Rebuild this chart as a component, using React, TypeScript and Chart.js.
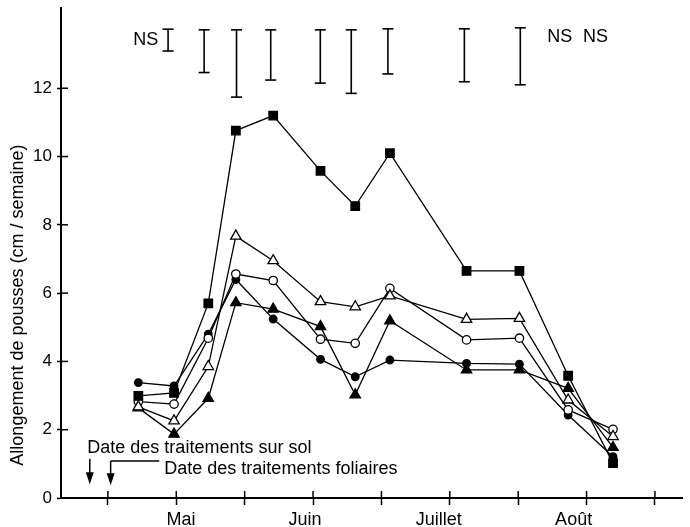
import React, { useEffect, useRef } from 'react';
import { Chart, registerables } from 'chart.js';

Chart.register(...registerables);

// Sampling dates (x units: one unit = one x-axis tick interval, 0 = first tick)
const sampleDates = [0.445, 0.967, 1.468, 1.871, 2.417, 3.109, 3.617, 4.124, 5.245, 6.018, 6.731, 7.387];

// Shoot elongation (cm / semaine) per treatment
const filledSquares = [2.99, 3.08, 5.7, 10.76, 11.2, 9.58, 8.55, 10.1, 6.65, 6.65, 3.58, 1.02];
const openTriangles = [2.67, 2.26, 3.85, 7.67, 6.95, 5.75, 5.6, 5.92, 5.23, 5.26, 2.87, 1.8];
const openCircles = [2.82, 2.75, 4.68, 6.56, 6.37, 4.65, 4.53, 6.14, 4.63, 4.68, 2.58, 2.01];
const filledCircles = [3.38, 3.28, 4.8, 6.4, 5.24, 4.06, 3.55, 4.04, 3.94, 3.92, 2.43, 1.21];
const filledTriangles = [2.64, 1.87, 2.92, 5.72, 5.53, 5.02, 3.02, 5.19, 3.75, 3.75, 3.21, 1.48];

// Axis ticks and labels
const yTicks = [0, 2, 4, 6, 8, 10, 12];
const xTickMarks = [0, 1, 2, 3, 4, 5, 6, 7, 8];
const monthNames = ['Mai', 'Juin', 'Juillet', 'Août'];
const monthPositions = [1.069, 2.881, 4.839, 6.811];

// LSD bars shown at the top
const errorBarX = [0.88, 1.407, 1.881, 2.381, 3.106, 3.559, 4.095, 5.213, 6.031];
const errorBarTop = [13.73, 13.71, 13.71, 13.71, 13.71, 13.71, 13.74, 13.74, 13.77];
const errorBarBottom = [13.09, 12.46, 11.74, 12.24, 12.15, 11.85, 12.42, 12.19, 12.1];
const nsLabels = ['NS', 'NS', 'NS'];
const nsX = [0.554, 6.608, 7.13];
const nsY = [13.41, 13.5, 13.5];

// Texts
const yTitle = 'Allongement de pousses (cm / semaine)';
const soilText = 'Date des traitements sur sol';
const foliarText = 'Date des traitements foliaires';

const X_MIN = -0.686;
const X_MAX = 8.406;
const Y_MAX = 14.35;
const FONT = '"Liberation Sans", Arial, Helvetica, sans-serif';

const toPts = (vals: number[]) => vals.map((v, i) => ({ x: sampleDates[i], y: v }));

const overlay = {
  id: 'overlay',
  afterDraw(chart: any) {
    const { ctx, chartArea } = chart;
    const xs = chart.scales.x;
    const ys = chart.scales.y;
    const px = (v: number) => xs.getPixelForValue(v);
    const py = (v: number) => ys.getPixelForValue(v);
    const line = (x1: number, y1: number, x2: number, y2: number) => {
      ctx.beginPath();
      ctx.moveTo(x1, y1);
      ctx.lineTo(x2, y2);
      ctx.stroke();
    };
    ctx.save();
    ctx.strokeStyle = '#000';
    ctx.fillStyle = '#000';
    ctx.lineWidth = 1.5;
    // inner halves of tick marks
    yTicks.forEach((v) => line(chartArea.left, py(v), chartArea.left + 7, py(v)));
    xTickMarks.forEach((v) => line(px(v), chartArea.bottom, px(v), chartArea.bottom - 7));

    // error bars
    ctx.lineWidth = 1.6;
    errorBarX.forEach((xv, i) => {
      const x0 = px(xv);
      const t = py(errorBarTop[i]);
      const b = py(errorBarBottom[i]);
      line(x0, t, x0, b);
      line(x0 - 5.5, t, x0 + 5.5, t);
      line(x0 - 5.5, b, x0 + 5.5, b);
    });
    ctx.font = `18px ${FONT}`;
    ctx.textAlign = 'center';
    ctx.textBaseline = 'middle';
    nsLabels.forEach((s, i) => ctx.fillText(s, px(nsX[i]), py(nsY[i])));

    // treatment-date annotations
    ctx.textAlign = 'left';
    ctx.textBaseline = 'alphabetic';
    ctx.fillText(soilText, px(-0.301), py(1.33));
    ctx.fillText(foliarText, px(0.825), py(0.69));
    const arrow = (xv: number, topV: number, tipV: number) => {
      const x0 = px(xv);
      const t = py(topV);
      const tip = py(tipV);
      ctx.lineWidth = 1.5;
      line(x0, t, x0, tip - 9);
      ctx.beginPath();
      ctx.moveTo(x0 - 4, tip - 12);
      ctx.lineTo(x0 + 4, tip - 12);
      ctx.lineTo(x0, tip);
      ctx.closePath();
      ctx.fill();
    };
    arrow(-0.265, 1.15, 0.4);
    arrow(0.04, 1.08, 0.37);
    ctx.lineWidth = 1.5;
    line(px(0.04), py(1.08), px(0.75), py(1.08));

    // y-axis title
    ctx.save();
    ctx.translate(chartArea.left - 43, py(5.65));
    ctx.rotate(-Math.PI / 2);
    ctx.textAlign = 'center';
    ctx.textBaseline = 'middle';
    ctx.font = `18px ${FONT}`;
    ctx.fillText(yTitle, 0, 0);
    ctx.restore();
    ctx.restore();
  },
};

const series = [
  { data: filledSquares, style: 'rect', radius: 6, fill: '#000' },
  { data: openTriangles, style: 'triangle', radius: 6, fill: '#fff' },
  { data: openCircles, style: 'circle', radius: 4.2, fill: '#fff' },
  { data: filledCircles, style: 'circle', radius: 3.8, fill: '#000' },
  { data: filledTriangles, style: 'triangle', radius: 6, fill: '#000' },
];

export default function App() {
  const ref = useRef<HTMLCanvasElement | null>(null);
  useEffect(() => {
    if (!ref.current) return;
    Chart.defaults.font.family = FONT;
    const chart = new Chart(ref.current, {
      type: 'line',
      data: {
        datasets: series.map((s) => ({
          data: toPts(s.data),
          borderColor: '#000',
          borderWidth: 1.3,
          pointStyle: s.style as any,
          pointRadius: s.radius,
          pointBackgroundColor: s.fill,
          pointBorderColor: '#000',
          pointBorderWidth: 1.3,
          tension: 0,
          fill: false,
        })),
      },
      options: {
        animation: false,
        responsive: false,
        layout: { padding: { top: 8, right: 2, left: 0, bottom: 0 } },
        plugins: { legend: { display: false }, tooltip: { enabled: false } },
        scales: {
          x: {
            type: 'linear',
            min: X_MIN,
            max: X_MAX,
            afterBuildTicks: (s: any) => {
              s.ticks = [...xTickMarks, ...monthPositions].sort((a, b) => a - b).map((v) => ({ value: v }));
            },
            afterFit: (s: any) => {
              s.height = 29;
              s.paddingLeft = 0;
              s.paddingRight = 0;
            },
            grid: {
              drawOnChartArea: false,
              drawTicks: true,
              tickLength: 7,
              tickWidth: 1.5,
              tickColor: (c: any) => (monthPositions.includes(c.tick?.value) ? 'rgba(0,0,0,0)' : '#000'),
            },
            border: { color: '#000', width: 2 },
            ticks: {
              autoSkip: false,
              maxRotation: 0,
              padding: 4,
              color: '#000',
              font: { size: 18 },
              callback: (v: any) => {
                const i = monthPositions.indexOf(v);
                return i >= 0 ? monthNames[i] : '';
              },
            },
          },
          y: {
            type: 'linear',
            min: 0,
            max: Y_MAX,
            afterBuildTicks: (s: any) => {
              s.ticks = yTicks.map((v) => ({ value: v }));
            },
            afterFit: (s: any) => {
              s.width = 61;
              s.paddingTop = 0;
              s.paddingBottom = 0;
            },
            grid: { drawOnChartArea: false, tickLength: 4, tickWidth: 1.5, tickColor: '#000' },
            border: { color: '#000', width: 2 },
            ticks: { padding: 5, color: '#000', font: { size: 17 } },
          },
        },
      },
      plugins: [overlay],
    });
    return () => chart.destroy();
  }, []);
  return (
    <div style={{ position: 'absolute', left: 0, top: 0, width: 690, height: 527, background: '#fff' }}>
      <canvas ref={ref} width={690} height={527} />
    </div>
  );
}
